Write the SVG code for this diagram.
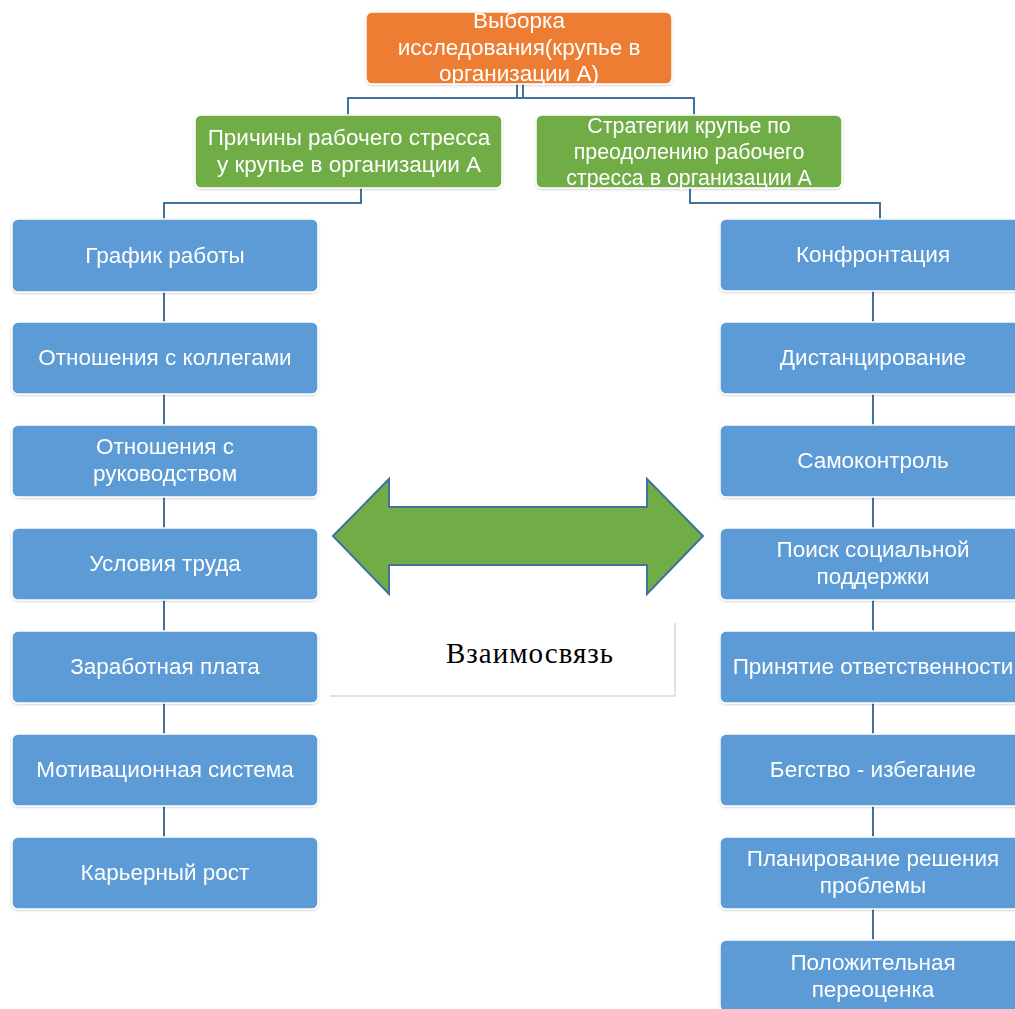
<svg xmlns="http://www.w3.org/2000/svg" width="1015" height="1009" viewBox="0 0 1015 1009">
<defs>
<style>
.box{stroke:#ffffff;stroke-width:1.5}
.orange{fill:#ED7D31}
.green{fill:#70AD47}
.blue{fill:#5B9BD5}
.t{font-family:"Liberation Sans",Arial,sans-serif;fill:#ffffff;text-anchor:middle}
.tb{font-size:22.5px}
.to{font-size:22.5px}
.tg{font-size:22.5px}
.tg2{font-size:21.4px}
.conn{fill:none;stroke:#41719C;stroke-width:2}
</style>
<filter id="sh" x="-5%" y="-5%" width="110%" height="115%">
<feDropShadow dx="0" dy="1" stdDeviation="1" flood-color="#000" flood-opacity="0.18"/>
</filter>
</defs>
<rect width="1015" height="1009" fill="#ffffff"/>
<g id="connectors">
<path class="conn" d="M517 84V98M523 84V98M348 115V98H694V115"/>
<path class="conn" d="M361 188V203H164V219"/>
<path class="conn" d="M164 292V322M164 394V425M164 497V528M164 600V631M164 703V734M164 806V837"/>
<path class="conn" d="M690 188V203H880V219"/>
<path class="conn" d="M873 291V322M873 394V425M873 497V528M873 600V631M873 703V734M873 806V837M873 909V940"/>
</g>
<g id="n-root" filter="url(#sh)">
<rect class="box orange" x="366" y="12" width="306" height="72" rx="6"/>
<text class="t to" x="519" y="28">Выборка</text>
<text class="t to" x="519" y="55">исследования(крупье в</text>
<text class="t to" x="519" y="81">организации А)</text>
</g>
<g id="n-causes" filter="url(#sh)">
<rect class="box green" x="195" y="115" width="307" height="73" rx="6"/>
<text class="t tg" x="349" y="145">Причины рабочего стресса</text>
<text class="t tg" x="349" y="172">у крупье в организации А</text>
</g>
<g id="n-strategies" filter="url(#sh)">
<rect class="box green" x="536" y="115" width="306" height="73" rx="6"/>
<text class="t tg2" x="689" y="133">Стратегии крупье по</text>
<text class="t tg2" x="689" y="159">преодолению рабочего</text>
<text class="t tg2" x="689" y="185">стресса в организации А</text>
</g>
<g id="n-l1" filter="url(#sh)"><rect class="box blue" x="12" y="219" width="306" height="73" rx="6"/><text class="t tb" x="165" y="263">График работы</text></g>
<g id="n-l2" filter="url(#sh)"><rect class="box blue" x="12" y="322" width="306" height="72" rx="6"/><text class="t tb" x="165" y="365">Отношения с коллегами</text></g>
<g id="n-l3" filter="url(#sh)"><rect class="box blue" x="12" y="425" width="306" height="72" rx="6"/><text class="t tb" x="165" y="454">Отношения с</text><text class="t tb" x="165" y="481">руководством</text></g>
<g id="n-l4" filter="url(#sh)"><rect class="box blue" x="12" y="528" width="306" height="72" rx="6"/><text class="t tb" x="165" y="571">Условия труда</text></g>
<g id="n-l5" filter="url(#sh)"><rect class="box blue" x="12" y="631" width="306" height="72" rx="6"/><text class="t tb" x="165" y="674">Заработная плата</text></g>
<g id="n-l6" filter="url(#sh)"><rect class="box blue" x="12" y="734" width="306" height="72" rx="6"/><text class="t tb" x="165" y="777">Мотивационная система</text></g>
<g id="n-l7" filter="url(#sh)"><rect class="box blue" x="12" y="837" width="306" height="72" rx="6"/><text class="t tb" x="165" y="880">Карьерный рост</text></g>
<g id="n-r1" filter="url(#sh)"><rect class="box blue" x="720" y="219" width="306" height="72" rx="6"/><text class="t tb" x="873" y="262">Конфронтация</text></g>
<g id="n-r2" filter="url(#sh)"><rect class="box blue" x="720" y="322" width="306" height="72" rx="6"/><text class="t tb" x="873" y="365">Дистанцирование</text></g>
<g id="n-r3" filter="url(#sh)"><rect class="box blue" x="720" y="425" width="306" height="72" rx="6"/><text class="t tb" x="873" y="468">Самоконтроль</text></g>
<g id="n-r4" filter="url(#sh)"><rect class="box blue" x="720" y="528" width="306" height="72" rx="6"/><text class="t tb" x="873" y="557">Поиск социальной</text><text class="t tb" x="873" y="584">поддержки</text></g>
<g id="n-r5" filter="url(#sh)"><rect class="box blue" x="720" y="631" width="306" height="72" rx="6"/><text class="t tb" x="873" y="674">Принятие ответственности</text></g>
<g id="n-r6" filter="url(#sh)"><rect class="box blue" x="720" y="734" width="306" height="72" rx="6"/><text class="t tb" x="873" y="777">Бегство - избегание</text></g>
<g id="n-r7" filter="url(#sh)"><rect class="box blue" x="720" y="837" width="306" height="72" rx="6"/><text class="t tb" x="873" y="866">Планирование решения</text><text class="t tb" x="873" y="893">проблемы</text></g>
<g id="n-r8" filter="url(#sh)"><rect class="box blue" x="720" y="940" width="306" height="72" rx="6"/><text class="t tb" x="873" y="970">Положительная</text><text class="t tb" x="873" y="997">переоценка</text></g>
<g id="n-arrow">
<polygon points="333,536 389,479 389,507 647,507 647,479 703,536 647,594 647,565 389,565 389,594" fill="#70AD47" stroke="#41719C" stroke-width="2" stroke-linejoin="miter"/>
</g>
<g id="n-relation">
<rect x="330" y="623" width="345" height="73" fill="#ffffff"/>
<path d="M330 696H675V623" fill="none" stroke="#d9d9d9" stroke-width="1.5"/>
<text x="530" y="663" font-family="'Liberation Serif','Times New Roman',serif" font-size="29" letter-spacing="1" fill="#000000" text-anchor="middle">Взаимосвязь</text>
</g>
</svg>
